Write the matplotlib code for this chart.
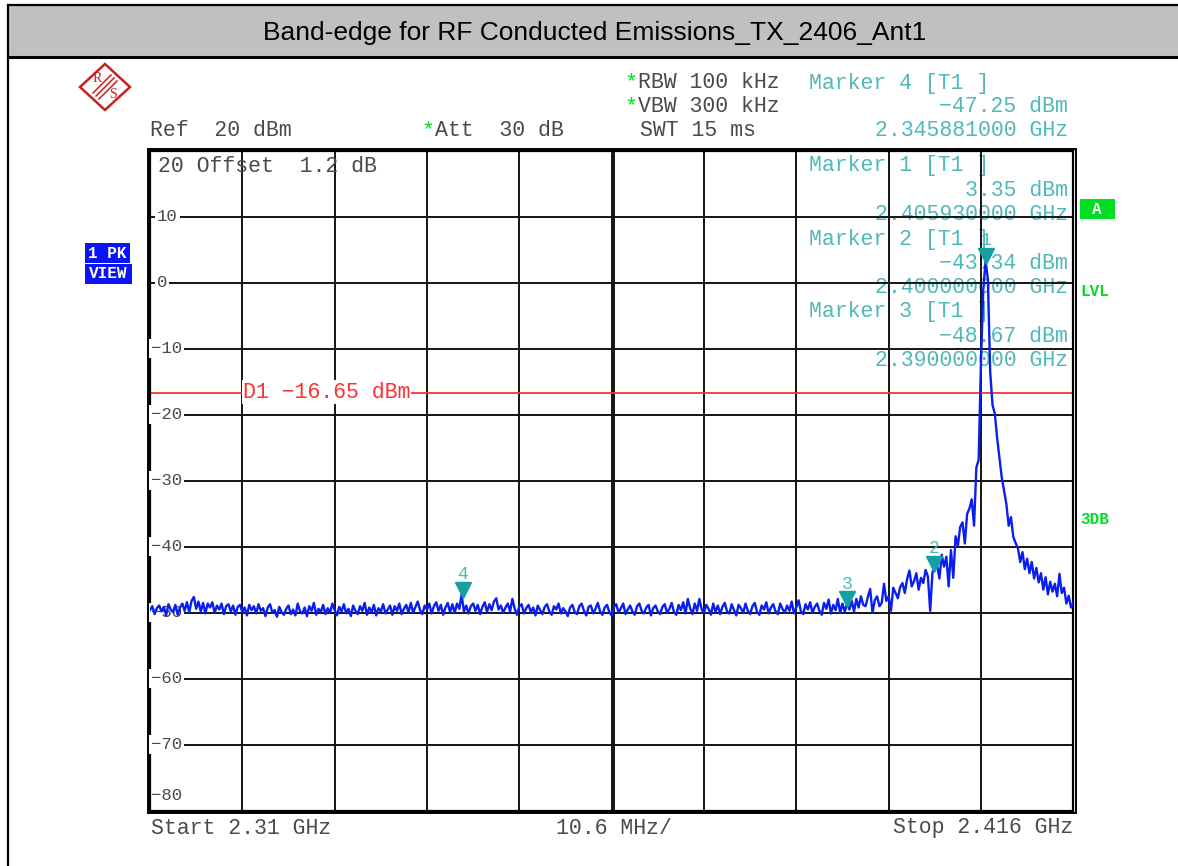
import numpy as np
import matplotlib
matplotlib.use("Agg")
import matplotlib.pyplot as plt
from matplotlib.patches import Rectangle, Polygon
from matplotlib.transforms import offset_copy

W, H = 1178, 866

# sweep settings
f_start, f_stop = 2.31, 2.416
ref_level, bottom_level = 20, -80
d1_level = -16.65

# trace levels (dBm), 401 sweep points
levels = [
    -49.6, -49.0, -50.2, -49.3, -48.9, -49.8, -49.1, -50.4, -48.7, -49.5,
    -49.9, -48.8, -50.3, -49.2, -48.6, -49.7, -48.4, -49.9, -48.2, -47.6,
    -49.4, -48.3, -49.8, -48.5, -50.1, -48.6, -49.2, -48.4, -50.0, -48.9,
    -49.5, -48.6, -50.2, -49.0, -48.7, -49.8, -48.9, -50.3, -49.1, -48.8,
    -49.9, -49.2, -50.4, -48.8, -49.6, -49.0, -50.1, -48.7, -49.7, -49.3,
    -50.5, -49.2, -48.7, -50.0, -49.6, -50.6, -49.1, -49.9, -50.3, -49.4,
    -48.9, -50.2, -49.5, -50.4, -48.6, -49.8, -50.1, -49.2, -50.5, -49.0,
    -49.7, -48.5, -50.3, -49.4, -49.9, -48.8, -50.2, -49.3, -50.0, -48.6,
    -49.6, -50.4, -49.1, -49.8, -48.7, -50.1, -49.4, -50.5, -48.9, -49.7,
    -50.2, -49.0, -49.7, -48.5, -50.3, -49.2, -49.9, -48.8, -50.4, -49.3,
    -49.8, -48.7, -50.1, -49.5, -48.9, -50.3, -49.0, -49.7, -48.6, -50.2,
    -49.4, -48.8, -49.9, -48.5, -50.0, -49.1, -48.3, -49.6, -50.2, -48.9,
    -49.5, -48.6, -50.1, -49.0, -48.4, -49.7, -48.8, -50.3, -49.2, -48.5,
    -49.9, -48.7, -50.0, -48.6, -49.4, -47.25, -49.8, -48.9, -50.1, -49.0,
    -48.6, -49.7, -48.8, -50.2, -49.1, -48.4, -49.9, -48.7, -49.6, -48.3,
    -47.8, -49.5, -48.9, -50.0, -49.2, -48.6, -49.8, -47.9, -49.4, -50.3,
    -49.0, -48.7, -50.1, -49.3, -48.8, -49.9, -49.2, -50.4, -48.9, -49.6,
    -50.2, -49.1, -48.7, -49.8, -50.3, -49.0, -49.5, -48.6, -50.1, -49.3,
    -49.8, -50.5, -49.2, -48.8, -49.9, -50.2, -49.0, -48.6, -49.7, -50.4,
    -49.1, -48.9, -50.1, -49.4, -48.5, -49.8, -50.3, -49.2, -48.8, -49.9,
    -50.4, -49.1, -48.7, -50.0, -49.3, -48.6, -50.2, -49.5, -48.9, -49.8,
    -50.3, -49.0, -48.6, -49.7, -50.1, -49.2, -48.8, -50.4, -49.3, -48.9,
    -49.8, -50.2, -49.1, -48.7, -50.0, -49.4, -48.5, -49.9, -50.3, -48.8,
    -49.6, -48.4, -50.1, -47.9, -49.3, -50.2, -48.6, -49.7, -47.9, -49.5,
    -50.0, -48.8, -49.4, -50.3, -48.6, -49.9, -48.9, -50.2, -49.1, -48.5,
    -49.8, -50.1, -48.7, -49.6, -50.4, -48.8, -49.3, -50.0, -48.6, -49.7,
    -50.2, -49.0, -48.5, -49.9, -50.3, -48.9, -49.5, -48.4, -50.1, -49.2,
    -48.7, -49.8, -50.2, -48.6, -49.4, -50.0, -48.9, -49.7, -48.3, -50.1,
    -49.2, -48.1, -49.8, -50.2, -48.7, -49.5, -48.4, -50.0, -49.1, -48.6,
    -49.7, -50.3, -48.5, -49.4, -48.0, -50.1, -48.8, -49.6, -47.9, -50.0,
    -48.6, -49.8, -48.67, -49.5, -48.2, -49.8, -47.9, -49.2, -47.5, -48.8,
    -49.0, -47.6, -46.4, -50.0, -48.1, -47.5, -49.0, -48.5, -45.6, -48.2,
    -47.5, -49.7, -46.2, -47.0, -47.8, -46.1, -45.5, -47.0, -44.9, -43.6,
    -46.0, -45.2, -44.0, -46.5, -44.7, -45.5, -43.5, -44.5, -49.7, -43.8,
    -43.34, -42.8, -44.8, -41.2, -43.0, -41.5, -46.0, -40.5, -44.7, -38.4,
    -39.8, -37.0, -36.3, -39.5, -35.0, -34.2, -32.8, -36.8, -28.0, -26.8,
    -12.0, -1.0, 3.35, 0.5, -13.5, -18.5, -19.8, -23.5, -26.5, -29.5,
    -31.5, -33.5, -36.8, -35.5, -38.5, -39.4, -40.2, -42.3, -40.8, -43.4,
    -41.8, -44.0, -42.3, -44.8, -43.2, -45.4, -44.0, -46.5, -44.6, -47.2,
    -45.3, -46.8, -45.6, -47.5, -44.1, -47.0, -46.2, -48.6, -47.4, -49.2,
    -48.4,
]
freqs = np.linspace(f_start, f_stop, len(levels))

marker_ids = [1, 2, 3, 4]
marker_freqs = [2.40593, 2.4, 2.39, 2.345881]
marker_levels = [3.35, -43.34, -48.67, -47.25]

y_ticks = list(range(10, -80, -10))

title = "Band-edge for RF Conducted Emissions_TX_2406_Ant1"

MONO = "Liberation Mono"
TXT = "#4a4a4a"
TEAL = "#50b8b8"
TEAL_DARK = "#14a0a0"
BLUE = "#0a1ef0"
RED = "#ff3030"
GREEN = "#00dd22"
FS = 15.5

fig = plt.figure(figsize=(W / 100, H / 100), dpi=100)

# background axes in pixel units
bg = fig.add_axes([0, 0, 1, 1], zorder=0)
bg.set_xlim(0, W)
bg.set_ylim(H, 0)
bg.axis("off")

# title bar
bg.add_patch(Rectangle((7.5, 5), W, 52, facecolor="#c0c0c0", edgecolor="none"))
bg.plot([7.5, W], [5, 5], color="black", lw=1.6)
bg.plot([7.5, W], [57, 57], color="black", lw=2.2)
bg.plot([7.5, 7.5], [5, H], color="black", lw=1.6)
bg.text(595, 33, title, ha="center", va="center", fontsize=19,
        family="Liberation Sans", color="black")

# R&S logo
lx, ly = 105, 87
bg.add_patch(Polygon([(lx, ly - 23), (lx + 25, ly), (lx, ly + 23), (lx - 25, ly)],
                     closed=True, fill=False, edgecolor="#cc1f1f", lw=1.8))
for d in (-3, 0, 3):
    bg.plot([lx + 9 + d, lx - 9 + d], [ly - 9 + d, ly + 9 + d], color="#cc1f1f", lw=1.1)
bg.text(lx - 8, ly - 8, "R", color="#cc1f1f", fontsize=10, ha="center", va="center",
        family="Liberation Serif")
bg.text(lx + 8, ly + 8, "S", color="#cc1f1f", fontsize=10, ha="center", va="center",
        family="Liberation Serif")

# header text
bg.text(624, 83, "*", color=GREEN, fontsize=FS, family=MONO, ha="left", va="center")
bg.text(638, 83, "RBW 100 kHz", color=TXT, fontsize=FS, family=MONO, ha="left", va="center")
bg.text(624, 107, "*", color=GREEN, fontsize=FS, family=MONO, ha="left", va="center")
bg.text(638, 107, "VBW 300 kHz", color=TXT, fontsize=FS, family=MONO, ha="left", va="center")
bg.text(150, 131, "Ref  20 dBm", color=TXT, fontsize=FS, family=MONO, ha="left", va="center")
bg.text(421, 131, "*", color=GREEN, fontsize=FS, family=MONO, ha="left", va="center")
bg.text(435, 131, "Att  30 dB", color=TXT, fontsize=FS, family=MONO, ha="left", va="center")
bg.text(640, 131, "SWT 15 ms", color=TXT, fontsize=FS, family=MONO, ha="left", va="center")

bg.text(809, 83, "Marker 4 [T1 ]", color=TEAL, fontsize=FS, family=MONO, ha="left", va="center")
bg.text(1068, 107, "\u221247.25 dBm", color=TEAL, fontsize=FS, family=MONO, ha="right", va="center")
bg.text(1068, 131, "2.345881000 GHz", color=TEAL, fontsize=FS, family=MONO, ha="right", va="center")

# marker readouts inside the grid
readout = [
    ("Marker 1 [T1 ]", "3.35 dBm", "2.405930000 GHz"),
    ("Marker 2 [T1 ]", "\u221243.34 dBm", "2.400000000 GHz"),
    ("Marker 3 [T1 ]", "\u221248.67 dBm", "2.390000000 GHz"),
]
y0 = 166
for k, (a, b, c) in enumerate(readout):
    yy = y0 + k * 73
    bg.text(809, yy, a, color=TEAL, fontsize=FS, family=MONO, ha="left", va="center")
    bg.text(1068, yy + 24.4, b, color=TEAL, fontsize=FS, family=MONO, ha="right", va="center")
    bg.text(1068, yy + 48.8, c, color=TEAL, fontsize=FS, family=MONO, ha="right", va="center")

# bottom text
bg.text(151, 828, "Start 2.31 GHz", color=TXT, fontsize=FS, family=MONO, ha="left", va="center")
bg.text(556, 828, "10.6 MHz/", color=TXT, fontsize=FS, family=MONO, ha="left", va="center")
bg.text(1073, 828, "Stop 2.416 GHz", color=TXT, fontsize=FS, family=MONO, ha="right", va="center")

# left status boxes
bg.add_patch(Rectangle((85, 243), 45, 19.5, facecolor="#0a14f5", edgecolor="none"))
bg.add_patch(Rectangle((85, 264), 46.5, 19.5, facecolor="#0a14f5", edgecolor="none"))
bg.text(107.5, 253, "1 PK", color="white", fontsize=11.5, family=MONO, weight="bold",
        ha="center", va="center")
bg.text(108, 274, "VIEW", color="white", fontsize=11.5, family=MONO, weight="bold",
        ha="center", va="center")

# right status labels
bg.add_patch(Rectangle((1080, 199), 34.5, 20, facecolor=GREEN, edgecolor="none"))
bg.text(1097, 209.5, "A", color="white", fontsize=11.5, family=MONO, weight="bold",
        ha="center", va="center")
bg.text(1080, 292, "LVL", color=GREEN, fontsize=11.5, family=MONO, weight="bold",
        ha="left", va="center")
bg.text(1080, 520, "3DB", color=GREEN, fontsize=11.5, family=MONO, weight="bold",
        ha="left", va="center")

# outer frame of the grid (double line)
bg.add_patch(Rectangle((147.6, 148.6), 1075.8 - 147.6, 813 - 148.6,
                       fill=False, edgecolor="black", lw=1.4))

# trace axes
L, R, T, B = 150, 1073.3, 151, 810.7
ax = fig.add_axes([L / W, 1 - B / H, (R - L) / W, (B - T) / H], zorder=1)
ax.patch.set_alpha(0)
ax.set_xlim(f_start, f_stop)
ax.set_ylim(bottom_level, ref_level)
ax.set_xticks(np.linspace(f_start, f_stop, 11))
ax.set_yticks(range(bottom_level, ref_level + 1, 10))
ax.tick_params(length=0, labelbottom=False, labelleft=False)
ax.grid(True, color="#141414", lw=1.4, zorder=1)
ax.set_axisbelow(True)
for s in ax.spines.values():
    s.set_linewidth(1.6)
    s.set_color("black")
# doubled centre line
ax.axvline((f_start + f_stop) / 2 + 0.0003, color="#141414", lw=1.4, zorder=1)

# level labels on the grid
for v in y_ticks:
    yp = T + (ref_level - v) * (B - T) / (ref_level - bottom_level)
    xp = 151 if v < 0 else 157
    ax.text(xp, yp, str(v).replace("-", "\u2212"), transform=bg.transData,
            color=TXT, fontsize=12.5, family=MONO, ha="left", va="center", zorder=3,
            bbox=dict(boxstyle="square,pad=0.12", facecolor="white", edgecolor="none"))
ax.text(151, 795, "\u221280", transform=bg.transData, color=TXT, fontsize=12.5,
        family=MONO, ha="left", va="center", zorder=3)
ax.text(158, 166, "20 Offset  1.2 dB", transform=bg.transData, color=TXT,
        fontsize=FS, family=MONO, ha="left", va="center", zorder=3)

# display line D1
ax.axhline(d1_level, color=RED, lw=1.3, zorder=2)
ax.text(243, 392, "D1 \u221216.65 dBm", transform=bg.transData, color=RED,
        fontsize=FS, family=MONO, ha="left", va="center", zorder=3,
        bbox=dict(boxstyle="square,pad=0.05", facecolor="white", edgecolor="none"))

# trace
ax.plot(freqs, levels, color=BLUE, lw=1.7, zorder=4)

# markers
tri_tr = offset_copy(ax.transData, fig=fig, x=0, y=5, units="dots")
num_tr = offset_copy(ax.transData, fig=fig, x=0, y=20, units="dots")
for mid, mf, ml in zip(marker_ids, marker_freqs, marker_levels):
    ax.plot([mf], [ml], marker="v", ms=11, color=TEAL_DARK, transform=tri_tr,
            zorder=5, clip_on=False)
    ax.text(mf, ml, str(mid), transform=num_tr, color=TEAL, fontsize=13,
            family=MONO, ha="center", va="center", zorder=5)

fig.savefig("out.png", dpi=100)
